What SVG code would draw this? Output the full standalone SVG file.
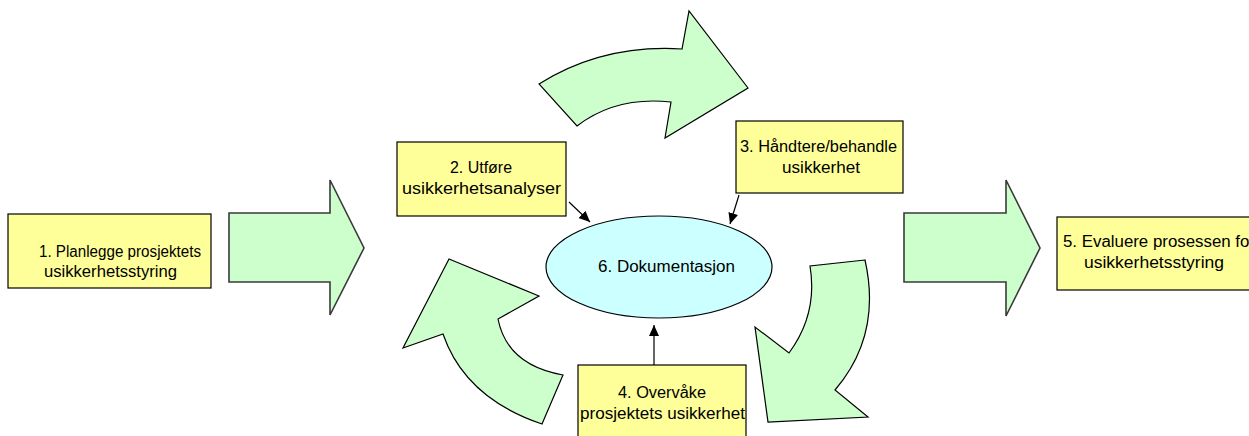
<svg xmlns="http://www.w3.org/2000/svg" width="1249" height="436" viewBox="0 0 1249 436">
<style>
.box{fill:#FFFF99;stroke:#000;stroke-width:1.2}
.big{fill:#CCFFCC;stroke:#3a3a3a;stroke-width:1.6;stroke-linejoin:miter}
.curve{fill:#CCFFCC;stroke:#000;stroke-width:1.2;stroke-linejoin:miter}
.ell{fill:#CCFFFF;stroke:#000;stroke-width:1.2}
text{font-family:"Liberation Sans",Arial,sans-serif;font-size:16px;fill:#000}
.conn{stroke:#000;stroke-width:1.2;fill:none}
</style>
<defs>
<marker id="ah" markerUnits="userSpaceOnUse" markerWidth="12" markerHeight="10" refX="11" refY="5" orient="auto">
<path d="M0,0 L11,5 L0,10 Z" fill="#000"/>
</marker>
</defs>
<rect width="1249" height="436" fill="#fff"/>

<g id="arrow-left" ><path class="big" d="M229,213 L330,213 L330,180 L364,248 L330,315 L330,282 L229,282 Z"/></g>
<g id="arrow-right"><path class="big" d="M904,213 L1006,213 L1006,180 L1040,248 L1006,316 L1006,282 L904,282 Z"/></g>

<g id="cycle-top"><path class="curve" d="M539,84 Q603,44 682,49 L689,11 L748,88 L665,138 L671,102 Q616,96 577,126 Z"/></g>
<g id="cycle-right"><path class="curve" d="M865,260 L810,266 Q818,314 789,353 L755,327 L768,422 L868,417 L835,390 Q882,335 865,260 Z"/></g>
<g id="cycle-left"><path class="curve" d="M449,259 L539,296 L498,319 Q507,365 563,375 L542,424 Q465,398 443,334 L403,348 Z"/></g>

<g id="connectors">
<path class="conn" d="M569,202 L590,222" marker-end="url(#ah)"/>
<path class="conn" d="M739,195 L730,224" marker-end="url(#ah)"/>
<path class="conn" d="M654,365 L654,325" marker-end="url(#ah)"/>
</g>

<g id="node1">
<rect class="box" x="8" y="214" width="203" height="74"/>
<text x="39" y="257" textLength="162" lengthAdjust="spacingAndGlyphs">1. Planlegge prosjektets</text>
<text x="44" y="277" textLength="133" lengthAdjust="spacingAndGlyphs">usikkerhetsstyring</text>
</g>

<g id="node2">
<rect class="box" x="397" y="142" width="169" height="74"/>
<text x="450" y="173" textLength="62" lengthAdjust="spacingAndGlyphs">2. Utføre</text>
<text x="402" y="194" textLength="159" lengthAdjust="spacingAndGlyphs">usikkerhetsanalyser</text>
</g>

<g id="node3">
<rect class="box" x="736" y="121" width="167" height="72"/>
<text x="740" y="152" textLength="157" lengthAdjust="spacingAndGlyphs">3. Håndtere/behandle</text>
<text x="782" y="173" textLength="78" lengthAdjust="spacingAndGlyphs">usikkerhet</text>
</g>

<g id="node6">
<ellipse class="ell" cx="659" cy="267" rx="113" ry="51"/>
<text x="598" y="272" textLength="137" lengthAdjust="spacingAndGlyphs">6. Dokumentasjon</text>
</g>

<g id="node4">
<rect class="box" x="578" y="365" width="168" height="80"/>
<text x="618" y="398" textLength="88" lengthAdjust="spacingAndGlyphs">4. Overvåke</text>
<text x="580" y="419" textLength="165" lengthAdjust="spacingAndGlyphs">prosjektets usikkerhet</text>
</g>

<g id="node5">
<rect class="box" x="1057" y="217" width="205" height="73"/>
<text x="1063" y="247" textLength="192" lengthAdjust="spacingAndGlyphs">5. Evaluere prosessen for</text>
<text x="1084" y="268" textLength="140" lengthAdjust="spacingAndGlyphs">usikkerhetsstyring</text>
</g>
</svg>
